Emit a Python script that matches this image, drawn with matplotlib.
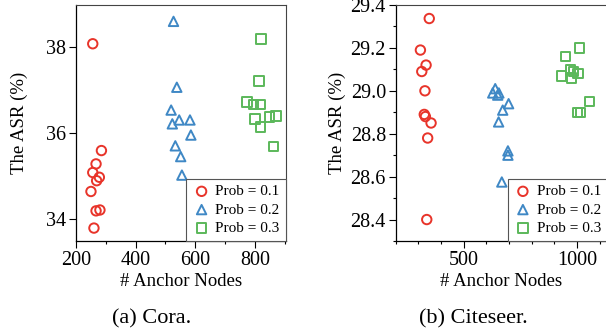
import numpy as np
import matplotlib
matplotlib.use('Agg')
import matplotlib.pyplot as plt
from matplotlib.ticker import MultipleLocator

plt.rcParams['font.family'] = ['Liberation Serif', 'DejaVu Serif']

# Cora
cora_x_01 = [257, 286, 268, 257, 279, 270, 251, 268, 281, 261]
cora_y_01 = [38.08, 35.6, 35.29, 35.09, 34.98, 34.9, 34.65, 34.2, 34.22, 33.8]
cora_x_02 = [527, 538, 519, 523, 546, 582, 585, 533, 551, 555]
cora_y_02 = [38.6, 37.07, 36.54, 36.22, 36.31, 36.31, 35.96, 35.71, 35.46, 35.03]
cora_x_03 = [819, 813, 772, 817, 794, 800, 848, 870, 817, 861]
cora_y_03 = [38.19, 37.22, 36.73, 36.67, 36.67, 36.33, 36.38, 36.4, 36.15, 35.69]

# Citeseer
cite_x_01 = [348, 309, 334, 315, 329, 326, 331, 356, 341, 337]
cite_y_01 = [29.337, 29.19, 29.12, 29.09, 29.0, 28.89, 28.88, 28.85, 28.78, 28.40]
cite_x_02 = [639, 628, 650, 655, 698, 672, 654, 695, 695, 668]
cite_y_02 = [29.01, 28.99, 28.98, 28.99, 28.94, 28.91, 28.855, 28.72, 28.70, 28.575]
cite_x_03 = [1010, 948, 932, 970, 976, 1005, 985, 1054, 1014, 1003]
cite_y_03 = [29.2, 29.16, 29.07, 29.1, 29.06, 29.08, 29.09, 28.95, 28.9, 28.9]

labels = ['Prob = 0.1', 'Prob = 0.2', 'Prob = 0.3']
colors = ['#e8342a', '#3f88c5', '#5bb85a']
markers = ['o', '^', 's']

W, H = 606, 336
fig = plt.figure(figsize=(W / 100, H / 100), dpi=100)

ax1 = fig.add_axes([75.7 / W, 1 - 241 / H, 210 / W, 236 / H])
ax2 = fig.add_axes([395.7 / W, 1 - 241 / H, 211.3 / W, 236 / H])


def draw(ax, xs, ys, ypad):
    for x, y, lab, c, m in zip(xs, ys, labels, colors, markers):
        ax.scatter(x, y, s=46, facecolors='none', edgecolors=c, marker=m,
                   linewidths=1.4, label=lab, zorder=3)
    leg = ax.legend(loc='lower right', borderaxespad=0, fancybox=False,
                    framealpha=1, edgecolor='#555555', fontsize=11,
                    handletextpad=0.3, borderpad=0.4, labelspacing=0.3,
                    handlelength=1.2)
    leg.get_frame().set_linewidth(0.8)
    ax.set_xlabel('# Anchor Nodes', fontsize=13.5, labelpad=2)
    ax.set_ylabel('The ASR (%)', fontsize=13.5, labelpad=ypad)
    ax.tick_params(labelsize=14.5, direction='out', length=5, width=0.8,
                   top=False, right=False, pad=2)
    ax.tick_params(which='minor', length=2.5, width=0.8, top=False, right=False)
    for s in ['top', 'right']:
        ax.spines[s].set_color('#444444')
        ax.spines[s].set_linewidth(0.8)
    for s in ['left', 'bottom']:
        ax.spines[s].set_linewidth(0.9)


draw(ax1, [cora_x_01, cora_x_02, cora_x_03], [cora_y_01, cora_y_02, cora_y_03], 13)
ax1.set_xlim(200, 902)
ax1.set_ylim(33.5, 38.98)
ax1.xaxis.set_major_locator(MultipleLocator(200))
ax1.xaxis.set_minor_locator(MultipleLocator(100))
ax1.yaxis.set_major_locator(MultipleLocator(2))

draw(ax2, [cite_x_01, cite_x_02, cite_x_03], [cite_y_01, cite_y_02, cite_y_03], 3)
ax2.set_xlim(200, 1132)
ax2.set_ylim(28.3, 29.4)
ax2.xaxis.set_major_locator(MultipleLocator(500))
ax2.xaxis.set_minor_locator(MultipleLocator(100))
ax2.yaxis.set_major_locator(MultipleLocator(0.2))
ax2.yaxis.set_minor_locator(MultipleLocator(0.1))
ax2.yaxis.set_major_formatter(matplotlib.ticker.FormatStrFormatter('%.1f'))

fig.text(152 / W, 1 - 319 / H, '(a) Cora.', ha='center', va='center', fontsize=16)
fig.text(473 / W, 1 - 319 / H, '(b) Citeseer.', ha='center', va='center', fontsize=16)

fig.savefig('out.png', dpi=100)
